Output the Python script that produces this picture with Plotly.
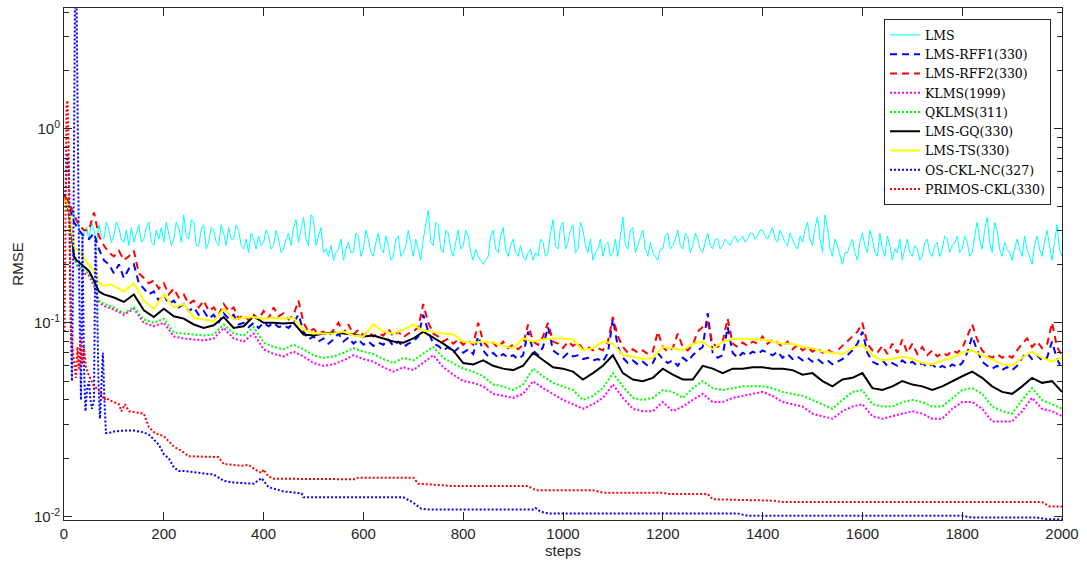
import plotly.graph_objects as go

# ---- sample grids -------------------------------------------------------
STEPS10 = [1] + list(range(10, 2001, 10))
STEPS10_MID = list(range(5, 2000, 10))
STEPS_S = [1, 5, 10, 15, 20, 25, 30, 40, 50, 60, 70, 80, 90, 100] + list(range(120, 2001, 20))

# ---- RMSE curves ---------------------------------------------------------
LMS = [0.46, 0.42, 0.36, 0.31, 0.29, 0.27, 0.30, 0.32, 0.27, 0.30,
       0.28, 0.31, 0.26, 0.25, 0.26, 0.32, 0.27, 0.33, 0.25, 0.27,
       0.26, 0.29, 0.27, 0.31, 0.36, 0.27, 0.33, 0.25, 0.32, 0.26,
       0.30, 0.25, 0.29, 0.31, 0.27, 0.30, 0.24, 0.23, 0.27, 0.28,
       0.26, 0.28, 0.25, 0.27, 0.24, 0.29, 0.31, 0.26, 0.35, 0.25,
       0.34, 0.28, 0.23, 0.22, 0.21, 0.24, 0.21, 0.26, 0.23, 0.28,
       0.24, 0.27, 0.22, 0.29, 0.23, 0.25, 0.22, 0.28, 0.23, 0.30,
       0.22, 0.24, 0.27, 0.38, 0.25, 0.32, 0.23, 0.29, 0.22, 0.30,
       0.25, 0.28, 0.21, 0.22, 0.20, 0.22, 0.30, 0.23, 0.31, 0.22,
       0.27, 0.22, 0.22, 0.23, 0.21, 0.22, 0.26, 0.23, 0.34, 0.24,
       0.33, 0.26, 0.32, 0.24, 0.30, 0.23, 0.21, 0.24, 0.22, 0.26,
       0.23, 0.22, 0.35, 0.24, 0.31, 0.25, 0.30, 0.22, 0.23, 0.21,
       0.24, 0.29, 0.25, 0.30, 0.24, 0.28, 0.25, 0.27, 0.23, 0.29,
       0.24, 0.27, 0.25, 0.26, 0.27, 0.26, 0.28, 0.27, 0.29, 0.28,
       0.30, 0.27, 0.31, 0.26, 0.28, 0.25, 0.27, 0.24, 0.26, 0.33,
       0.25, 0.35, 0.23, 0.31, 0.22, 0.25, 0.20, 0.23, 0.27, 0.21,
       0.29, 0.23, 0.27, 0.22, 0.24, 0.28, 0.21, 0.23, 0.21, 0.27,
       0.22, 0.24, 0.22, 0.27, 0.22, 0.26, 0.24, 0.27, 0.25, 0.28,
       0.24, 0.26, 0.23, 0.33, 0.24, 0.35, 0.23, 0.30, 0.22, 0.24,
       0.21, 0.27, 0.22, 0.24, 0.20, 0.28, 0.22, 0.30, 0.21, 0.32,
       0.22]

# LMS readings between the 10-step samples (steps 5, 15, ..., 1995)
LMS_MID = [0.44, 0.38, 0.33, 0.28, 0.31, 0.33, 0.26, 0.28, 0.33, 0.26,
           0.33, 0.27, 0.30, 0.31, 0.29, 0.26, 0.31, 0.26, 0.30, 0.31,
           0.33, 0.25, 0.33, 0.26, 0.28, 0.34, 0.25, 0.30, 0.24, 0.31,
           0.26, 0.32, 0.25, 0.27, 0.32, 0.25, 0.27, 0.29, 0.24, 0.25,
           0.30, 0.24, 0.30, 0.23, 0.27, 0.25, 0.34, 0.30, 0.27, 0.36,
           0.25, 0.31, 0.24, 0.25, 0.23, 0.27, 0.24, 0.23, 0.29, 0.22,
           0.30, 0.23, 0.26, 0.24, 0.28, 0.21, 0.27, 0.22, 0.25, 0.25,
           0.27, 0.21, 0.32, 0.26, 0.33, 0.24, 0.30, 0.24, 0.26, 0.24,
           0.30, 0.23, 0.24, 0.21, 0.21, 0.28, 0.24, 0.28, 0.24, 0.25,
           0.23, 0.25, 0.21, 0.24, 0.23, 0.27, 0.22, 0.29, 0.25, 0.31,
           0.24, 0.30, 0.23, 0.33, 0.25, 0.27, 0.23, 0.27, 0.25, 0.22,
           0.27, 0.28, 0.25, 0.30, 0.23, 0.27, 0.24, 0.26, 0.22, 0.24,
           0.28, 0.24, 0.27, 0.25, 0.29, 0.23, 0.29, 0.24, 0.26, 0.25,
           0.27, 0.24, 0.27, 0.25, 0.28, 0.27, 0.26, 0.29, 0.27, 0.30,
           0.28, 0.29, 0.27, 0.30, 0.26, 0.29, 0.25, 0.28, 0.30, 0.27,
           0.31, 0.27, 0.36, 0.24, 0.27, 0.22, 0.23, 0.25, 0.23, 0.26,
           0.25, 0.30, 0.23, 0.29, 0.22, 0.25, 0.24, 0.27, 0.24, 0.23,
           0.25, 0.21, 0.26, 0.23, 0.25, 0.22, 0.28, 0.23, 0.26, 0.23,
           0.28, 0.22, 0.28, 0.27, 0.30, 0.26, 0.33, 0.24, 0.26, 0.23,
           0.24, 0.24, 0.28, 0.22, 0.25, 0.24, 0.26, 0.25, 0.26, 0.24]

LMS_RFF1 = [0.44, 0.40, 0.33, 0.30, 0.28, 0.27, 0.29, 0.24, 0.21, 0.20,
            0.18, 0.20, 0.17, 0.19, 0.20, 0.16, 0.15, 0.14, 0.145, 0.13,
            0.14, 0.125, 0.13, 0.12, 0.125, 0.115, 0.12, 0.11, 0.115, 0.105,
            0.11, 0.10, 0.112, 0.105, 0.11, 0.098, 0.10, 0.095, 0.10, 0.094,
            0.10, 0.096, 0.10, 0.095, 0.097, 0.094, 0.10, 0.11, 0.09, 0.082,
            0.085, 0.08, 0.083, 0.078, 0.082, 0.088, 0.08, 0.084, 0.078, 0.082,
            0.077, 0.08, 0.076, 0.079, 0.077, 0.082, 0.076, 0.08, 0.075, 0.078,
            0.08, 0.085, 0.11, 0.09, 0.078, 0.076, 0.072, 0.075, 0.07, 0.074,
            0.07, 0.073, 0.069, 0.085, 0.072, 0.067, 0.07, 0.066, 0.069, 0.066,
            0.068, 0.065, 0.068, 0.09, 0.072, 0.068, 0.075, 0.095, 0.072, 0.069,
            0.066, 0.07, 0.067, 0.068, 0.065, 0.066, 0.064, 0.065, 0.063, 0.07,
            0.105, 0.075, 0.066, 0.062, 0.064, 0.061, 0.063, 0.06, 0.062, 0.07,
            0.065, 0.062, 0.064, 0.06, 0.066, 0.063, 0.068, 0.072, 0.075, 0.112,
            0.07, 0.066, 0.068, 0.095, 0.07, 0.066, 0.07, 0.068, 0.071, 0.069,
            0.072, 0.07, 0.068, 0.071, 0.066, 0.069, 0.065, 0.067, 0.064, 0.066,
            0.063, 0.065, 0.062, 0.064, 0.061, 0.063, 0.065, 0.068, 0.072, 0.078,
            0.09, 0.07, 0.063, 0.061, 0.064, 0.06, 0.062, 0.06, 0.064, 0.061,
            0.063, 0.06, 0.062, 0.059, 0.061, 0.058, 0.06, 0.058, 0.061, 0.059,
            0.062, 0.07, 0.085, 0.072, 0.063, 0.06, 0.058, 0.06, 0.057, 0.059,
            0.057, 0.06, 0.066, 0.07, 0.065, 0.068, 0.064, 0.066, 0.08, 0.065,
            0.058]

LMS_RFF2 = [0.45, 0.42, 0.36, 0.32, 0.30, 0.30, 0.37, 0.28, 0.25, 0.23,
            0.22, 0.235, 0.21, 0.22, 0.235, 0.18, 0.17, 0.16, 0.165, 0.15,
            0.16, 0.14, 0.15, 0.135, 0.14, 0.125, 0.13, 0.12, 0.13, 0.115,
            0.12, 0.11, 0.125, 0.115, 0.12, 0.105, 0.11, 0.103, 0.11, 0.104,
            0.115, 0.105, 0.12, 0.108, 0.112, 0.104, 0.11, 0.13, 0.10, 0.09,
            0.093, 0.088, 0.09, 0.085, 0.092, 0.10, 0.088, 0.098, 0.087, 0.092,
            0.086, 0.09, 0.085, 0.088, 0.086, 0.093, 0.085, 0.09, 0.084, 0.088,
            0.09, 0.095, 0.125, 0.10, 0.088, 0.085, 0.08, 0.083, 0.078, 0.082,
            0.077, 0.081, 0.077, 0.10, 0.08, 0.075, 0.079, 0.074, 0.08, 0.074,
            0.077, 0.073, 0.077, 0.098, 0.08, 0.077, 0.085, 0.10, 0.08, 0.078,
            0.074, 0.08, 0.076, 0.079, 0.073, 0.075, 0.072, 0.074, 0.072, 0.08,
            0.107, 0.085, 0.075, 0.07, 0.073, 0.07, 0.072, 0.069, 0.071, 0.09,
            0.075, 0.071, 0.074, 0.088, 0.075, 0.072, 0.077, 0.09, 0.095, 0.10,
            0.078, 0.075, 0.08, 0.105, 0.078, 0.075, 0.079, 0.076, 0.08, 0.078,
            0.085, 0.078, 0.082, 0.079, 0.075, 0.08, 0.073, 0.077, 0.072, 0.075,
            0.071, 0.074, 0.07, 0.073, 0.07, 0.072, 0.076, 0.08, 0.085, 0.09,
            0.10, 0.078, 0.072, 0.07, 0.076, 0.069, 0.078, 0.07, 0.082, 0.07,
            0.078, 0.069, 0.075, 0.068, 0.072, 0.067, 0.07, 0.068, 0.072, 0.07,
            0.074, 0.085, 0.098, 0.082, 0.072, 0.068, 0.066, 0.069, 0.066, 0.068,
            0.066, 0.072, 0.078, 0.083, 0.075, 0.08, 0.074, 0.077, 0.10, 0.075,
            0.068]

KLMS = [0.44, 0.41, 0.35, 0.28, 0.22, 0.20, 0.19, 0.18, 0.175, 0.155, 0.128, 0.122, 0.12, 0.117,
        0.11, 0.118, 0.10, 0.096, 0.10, 0.085, 0.083, 0.082, 0.081, 0.083,
        0.094, 0.083, 0.08, 0.088, 0.073, 0.069, 0.067, 0.071, 0.067, 0.062,
        0.06, 0.061, 0.064, 0.068, 0.065, 0.063, 0.059, 0.056, 0.059, 0.057,
        0.062, 0.068, 0.059, 0.054, 0.05, 0.049, 0.047, 0.043, 0.042, 0.041,
        0.043, 0.05, 0.046, 0.043, 0.04, 0.038, 0.036, 0.038, 0.041, 0.048,
        0.041, 0.036, 0.035, 0.035, 0.039, 0.035, 0.037, 0.04, 0.043, 0.039,
        0.039, 0.041, 0.042, 0.043, 0.044, 0.042, 0.039, 0.038, 0.037, 0.034,
        0.033, 0.032, 0.035, 0.037, 0.038, 0.033, 0.032, 0.033, 0.034, 0.035,
        0.034, 0.032, 0.032, 0.036, 0.039, 0.039, 0.036, 0.031, 0.031, 0.031,
        0.035, 0.041, 0.036, 0.035, 0.033]

QKLMS = [0.44, 0.41, 0.35, 0.28, 0.22, 0.20, 0.195, 0.185, 0.18, 0.16, 0.13, 0.125, 0.123, 0.12,
         0.112, 0.12, 0.104, 0.10, 0.105, 0.089, 0.088, 0.087, 0.086, 0.087,
         0.098, 0.088, 0.086, 0.095, 0.079, 0.075, 0.073, 0.077, 0.073, 0.068,
         0.066, 0.067, 0.07, 0.074, 0.071, 0.069, 0.065, 0.062, 0.066, 0.064,
         0.069, 0.075, 0.066, 0.062, 0.058, 0.056, 0.053, 0.048, 0.047, 0.045,
         0.048, 0.058, 0.053, 0.049, 0.047, 0.045, 0.04, 0.042, 0.046, 0.055,
         0.047, 0.041, 0.04, 0.041, 0.045, 0.044, 0.041, 0.046, 0.05, 0.046,
         0.045, 0.046, 0.047, 0.047, 0.047, 0.046, 0.044, 0.043, 0.042, 0.04,
         0.038, 0.036, 0.04, 0.044, 0.045, 0.038, 0.037, 0.037, 0.039, 0.04,
         0.039, 0.037, 0.037, 0.041, 0.045, 0.046, 0.043, 0.037, 0.035, 0.034,
         0.04, 0.046, 0.04, 0.038, 0.036]

LMS_GQ = [0.44, 0.42, 0.37, 0.30, 0.22, 0.21, 0.205, 0.195, 0.185, 0.165, 0.145, 0.14, 0.138, 0.135,
          0.128, 0.14, 0.116, 0.107, 0.118, 0.108, 0.105, 0.098, 0.094, 0.097,
          0.107, 0.094, 0.096, 0.108, 0.10, 0.10, 0.099, 0.10, 0.087, 0.086,
          0.088, 0.089, 0.088, 0.087, 0.085, 0.086, 0.083, 0.08, 0.079, 0.083,
          0.09, 0.084, 0.078, 0.072, 0.062, 0.061, 0.064, 0.06, 0.058, 0.057,
          0.06, 0.07, 0.064, 0.059, 0.058, 0.056, 0.051, 0.055, 0.06, 0.068,
          0.055, 0.051, 0.05, 0.052, 0.058, 0.054, 0.051, 0.051, 0.06, 0.058,
          0.055, 0.058, 0.058, 0.059, 0.059, 0.058, 0.058, 0.057, 0.054, 0.055,
          0.05, 0.047, 0.051, 0.052, 0.055, 0.046, 0.045, 0.047, 0.05, 0.048,
          0.047, 0.045, 0.047, 0.05, 0.053, 0.056, 0.052, 0.047, 0.044, 0.043,
          0.047, 0.052, 0.049, 0.05, 0.044]

LMS_TS = [0.44, 0.42, 0.38, 0.30, 0.245, 0.24, 0.235, 0.215, 0.20, 0.185, 0.16, 0.155, 0.158, 0.155,
          0.145, 0.16, 0.13, 0.118, 0.14, 0.12, 0.125, 0.106, 0.104, 0.102,
          0.118, 0.104, 0.106, 0.107, 0.105, 0.106, 0.105, 0.106, 0.092, 0.088,
          0.088, 0.088, 0.09, 0.086, 0.085, 0.098, 0.09, 0.088, 0.092, 0.098,
          0.091, 0.09, 0.088, 0.087, 0.08, 0.079, 0.08, 0.079, 0.076, 0.074,
          0.083, 0.08, 0.082, 0.083, 0.083, 0.082, 0.072, 0.074, 0.08, 0.078,
          0.068, 0.067, 0.065, 0.066, 0.075, 0.074, 0.072, 0.078, 0.08, 0.073,
          0.08, 0.082, 0.083, 0.082, 0.082, 0.08, 0.078, 0.078, 0.075, 0.074,
          0.071, 0.07, 0.069, 0.074, 0.077, 0.068, 0.064, 0.065, 0.067, 0.065,
          0.062, 0.061, 0.064, 0.066, 0.07, 0.072, 0.068, 0.065, 0.061, 0.06,
          0.066, 0.071, 0.066, 0.063, 0.066]

OS_STEPS = [1, 4, 7, 10, 13, 16, 19, 22, 25, 28, 31, 34, 37, 40, 43, 46, 50, 53, 56, 60,
            63, 66, 69, 72, 75, 78, 81, 84, 90, 100, 120, 140, 160, 170, 180, 190, 200, 210,
            220, 230, 240, 260, 300, 320, 340, 380, 396, 410, 440, 476, 480, 680, 700, 716,
            730, 940, 945, 955, 970, 1350, 1370, 1800, 1820, 1950, 1970, 2000]
OS_CKL_NC = [0.45, 0.5, 0.75, 0.6, 0.12, 0.05, 0.3, 5.0, 5.0, 0.6, 0.12, 0.04, 0.28, 0.06,
             0.035, 0.045, 0.05, 0.04, 0.036, 0.04, 0.27, 0.15, 0.05, 0.032, 0.045, 0.07,
             0.04, 0.027, 0.027, 0.0275, 0.0278, 0.0278, 0.0272, 0.0265, 0.025, 0.0235,
             0.021, 0.02, 0.018, 0.0172, 0.0172, 0.017, 0.0165, 0.0153, 0.015, 0.0148,
             0.0158, 0.0142, 0.0135, 0.0132, 0.0126, 0.0126, 0.0118, 0.011, 0.0109, 0.0109,
             0.0111, 0.0106, 0.0104, 0.0104, 0.0101, 0.0101, 0.0099, 0.0099, 0.0097, 0.0097]

PR_STEPS = [1, 3, 5, 7, 9, 11, 13, 15, 18, 21, 24, 27, 30, 33, 36, 40, 44, 48, 52, 56,
            60, 65, 70, 75, 80, 85, 90, 100, 110, 115, 122, 130, 160, 170, 182, 200, 209,
            220, 236, 250, 309, 320, 356, 370, 383, 396, 400, 409, 420, 583, 590, 700, 710,
            760, 780, 930, 945, 1060, 1080, 1200, 1210, 1290, 1300, 1420, 1440, 1960, 1975, 2000]
PRIMOS_CKL = [0.09, 0.5, 1.3, 1.4, 0.9, 0.3, 0.12, 0.08, 0.07, 0.06, 0.052, 0.075, 0.058,
              0.084, 0.061, 0.075, 0.059, 0.055, 0.052, 0.05, 0.047, 0.046, 0.045, 0.043,
              0.04, 0.041, 0.04, 0.039, 0.038, 0.035, 0.038, 0.035, 0.034, 0.029, 0.027,
              0.026, 0.0245, 0.023, 0.0218, 0.0205, 0.0203, 0.0187, 0.0183, 0.0185, 0.0175,
              0.0168, 0.0175, 0.0162, 0.0157, 0.0156, 0.0159, 0.0159, 0.0148, 0.0146, 0.0144,
              0.0144, 0.0137, 0.0137, 0.0133, 0.0133, 0.0131, 0.0131, 0.0123, 0.0121, 0.0119,
              0.0119, 0.0113, 0.0113]

# merge the LMS samples into one step-ordered series
lms_pairs = sorted(zip(STEPS10 + STEPS10_MID, LMS + LMS_MID))
LMS_X = [p[0] for p in lms_pairs]
LMS_Y = [p[1] for p in lms_pairs]

# (name, x, y, colour, width, dash)
SERIES = [
    ("LMS", LMS_X, LMS_Y, "#00FFFF", 1, "solid"),
    ("LMS-RFF1(330)", STEPS10, LMS_RFF1, "#0000FF", 2, "7px,5px"),
    ("LMS-RFF2(330)", STEPS10, LMS_RFF2, "#FF0000", 2, "7px,5px"),
    ("KLMS(1999)", STEPS_S, KLMS, "#FF00FF", 2, "2px,2px"),
    ("QKLMS(311)", STEPS_S, QKLMS, "#00FF00", 2, "2px,2px"),
    ("LMS-GQ(330)", STEPS_S, LMS_GQ, "#000000", 2, "solid"),
    ("LMS-TS(330)", STEPS_S, LMS_TS, "#FFFF00", 2, "solid"),
    ("OS-CKL-NC(327)", OS_STEPS, OS_CKL_NC, "#0000FF", 2, "2px,2px"),
    ("PRIMOS-CKL(330)", PR_STEPS, PRIMOS_CKL, "#FF0000", 2, "2px,2px"),
]

fig = go.Figure()
for name, xs, ys, col, w, dash in SERIES:
    assert len(xs) == len(ys), name
    fig.add_trace(go.Scatter(x=xs, y=ys, mode="lines", name=name,
                             line=dict(color=col, width=w, dash=dash)))

AX = "#262626"
fig.update_layout(
    width=1087, height=566,
    margin=dict(l=64, r=25, t=8, b=46),
    paper_bgcolor="white", plot_bgcolor="white",
    font=dict(family="Liberation Sans, Arial, sans-serif", size=15, color=AX),
    legend=dict(x=0.989, y=0.978, xanchor="right", yanchor="top",
                bgcolor="white", bordercolor=AX, borderwidth=1,
                font=dict(family="DejaVu Serif, serif", size=12.5, color="#000000"),
                itemwidth=30, tracegroupgap=0),
    showlegend=True,
)
fig.update_xaxes(
    range=[0, 2000], tickvals=list(range(0, 2001, 200)),
    ticks="inside", ticklen=8, tickcolor=AX, showline=True, linecolor=AX,
    linewidth=1, mirror="ticks", showgrid=False, zeroline=False,
    title=dict(text="steps", standoff=4, font=dict(size=15)),
)
fig.update_yaxes(
    type="log", range=[-2.017, 0.623],
    tickvals=[0.01, 0.1, 1],
    ticktext=["10<sup>-2</sup>", "10<sup>-1</sup>", "10<sup>0</sup>"],
    ticks="inside", ticklen=8, tickcolor=AX, showline=True, linecolor=AX,
    linewidth=1, mirror="ticks", showgrid=False, zeroline=False,
    minor=dict(tickvals=[0.02, 0.03, 0.04, 0.05, 0.06, 0.07, 0.08, 0.09,
                         0.2, 0.3, 0.4, 0.5, 0.6, 0.7, 0.8, 0.9, 2, 3, 4],
               ticks="inside", ticklen=5, tickcolor=AX, showgrid=False),
    title=dict(text="RMSE", standoff=6, font=dict(size=15)),
)

fig.write_html("out.html")
